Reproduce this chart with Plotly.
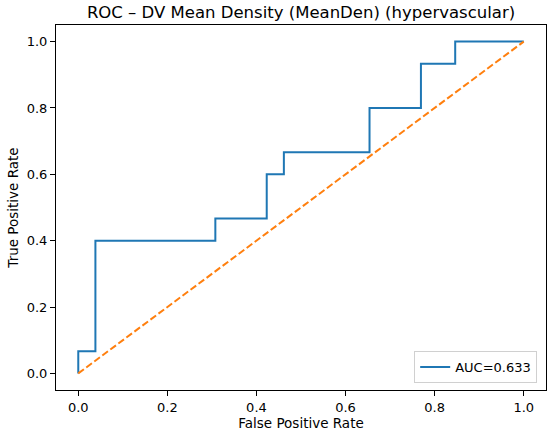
import plotly.graph_objects as go

fpr = [0.0, 0.0, 1/26, 1/26, 8/26, 8/26, 11/26, 11/26, 12/26, 12/26, 17/26, 17/26, 20/26, 20/26, 22/26, 22/26, 1.0]
tpr = [0.0, 1/15, 1/15, 6/15, 6/15, 7/15, 7/15, 9/15, 9/15, 10/15, 10/15, 12/15, 12/15, 14/15, 14/15, 1.0, 1.0]
chance_x = [0.0, 1.0]
chance_y = [0.0, 1.0]
auc_label = "AUC=0.633"
title_text = "ROC – DV Mean Density (MeanDen) (hypervascular)"
tick_vals = [0.0, 0.2, 0.4, 0.6, 0.8, 1.0]
tick_text = ["0.0", "0.2", "0.4", "0.6", "0.8", "1.0"]

font_family = "DejaVu Sans"

fig = go.Figure()
fig.add_trace(go.Scatter(x=fpr, y=tpr, mode="lines", name=auc_label,
                         line=dict(color="#1f77b4", width=2)))
fig.add_trace(go.Scatter(x=chance_x, y=chance_y, mode="lines", showlegend=False,
                         line=dict(color="#ff7f0e", width=2, dash="7px,3px")))

axis_common = dict(range=[-0.05, 1.05], tickvals=tick_vals, ticktext=tick_text,
                   showgrid=False, zeroline=False, showline=True, linecolor="black",
                   linewidth=1, mirror=True, ticks="outside", ticklen=5, tickwidth=1,
                   tickcolor="black", automargin=False,
                   tickfont=dict(family=font_family, size=13, color="black"))

fig.update_layout(
    width=550, height=436,
    margin=dict(l=56, r=4, t=25, b=46),
    paper_bgcolor="white", plot_bgcolor="white",
    font=dict(family=font_family, size=13, color="black"),
    title=dict(text=title_text, x=0.5, xref="paper", xanchor="center",
               y=1 - 12/436, yref="container", yanchor="middle",
               font=dict(family=font_family, size=16.5, color="black")),
    xaxis=dict(axis_common, title=dict(text="False Positive Rate", standoff=4,
                                       font=dict(family=font_family, size=13.5))),
    yaxis=dict(axis_common, title=dict(text="True Positive Rate", standoff=4,
                                       font=dict(family=font_family, size=13.5))),
    legend=dict(x=0.982, y=0.019, xanchor="right", yanchor="bottom",
                bgcolor="rgba(255,255,255,0.8)", bordercolor="#d0d0d0", borderwidth=1,
                font=dict(family=font_family, size=13), itemwidth=30),
)

fig.write_html("out.html", config={"displayModeBar": False},
               post_script="document.body.style.margin='0px';document.body.style.overflow='hidden';")
